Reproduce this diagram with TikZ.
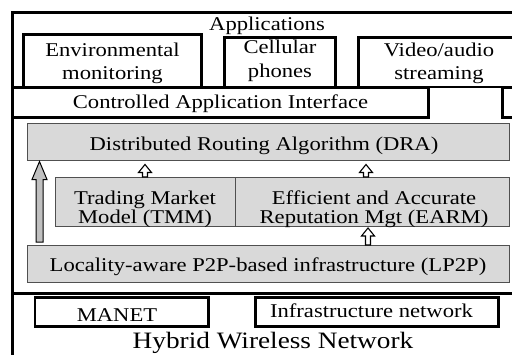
\documentclass[tikz,border=0pt]{standalone}
\usepackage{fontspec}
\setmainfont{Liberation Serif}[FakeStretch=1.16]
\usetikzlibrary{calc}
\definecolor{boxgray}{HTML}{D9D9D9}
\definecolor{arrgray}{HTML}{C0C0C0}
\definecolor{edgegray}{HTML}{505050}
% vertical block arrow: style, tail, tip, shaft half width, head half width, head length
\newcommand{\blkarrow}[6]{\draw[#1] let \p1=#2, \p2=#3 in
  (\x1-#4,\y1) -- (\x1-#4,\y2-#6) -- (\x1-#5,\y2-#6) -- (\x1,\y2) --
  (\x1+#5,\y2-#6) -- (\x1+#4,\y2-#6) -- (\x1+#4,\y1) -- cycle;}
\newcommand{\twoln}[3]{\fontsize{19.5}{#1}\selectfont\begin{tabular}[t]{@{}c@{}}#2\\#3\end{tabular}}
\begin{document}
\begin{tikzpicture}[x=1pt,y=-1pt,
  frame/.style={line width=3.5pt},
  appbox/.style={draw, line width=2.5pt, rectangle, inner sep=0pt, outer sep=0pt, anchor=north west},
  ifbox/.style={draw, line width=3pt, fill=white, rectangle, inner sep=0pt, outer sep=0pt, anchor=north west},
  graybox/.style={draw=edgegray, line width=1pt, fill=boxgray, rectangle, inner sep=0pt, outer sep=0pt, anchor=north west},
  lbl/.style={anchor=base, inner sep=0pt, font=\fontsize{19.5}{22}\selectfont},
  bigarr/.style={draw=black, line width=1pt, fill=arrgray, line join=miter},
  smallarr/.style={draw=black, line width=1.1pt, fill=white, line join=miter}]
\useasboundingbox (0,0) rectangle (512,354);
\fill[white] (0,0) rectangle (512,354);

% Applications layer
\node[appbox, minimum width=178pt, minimum height=52.5pt] (env) at (23.5,34.5) {};
\node[appbox, minimum width=111pt, minimum height=49.5pt] (cell) at (224.5,37.5) {};
\node[appbox, minimum width=170pt, minimum height=49.5pt] (video) at (358.5,37.5) {};
\draw[frame] (12.5,87) -- (12.5,12.5) -- (530,12.5);

% interface boxes
\node[ifbox, minimum width=415.5pt, minimum height=30pt] (cai) at (12.5,87) {};
\node[ifbox, minimum width=40pt, minimum height=30pt] (cai2) at (502,87) {};

% middle and bottom frames
\draw[frame] (12.5,117) -- (12.5,293.5) -- (530,293.5);
\draw[frame] (12.5,293.5) -- (12.5,360);

% gray layers
\node[graybox, minimum width=482pt, minimum height=37pt] (dra) at (27,123) {};
\node[graybox, minimum width=180pt, minimum height=49pt] (tmm) at (55,177) {};
\node[graybox, minimum width=274pt, minimum height=49pt] (earm) at (235,177) {};
\node[graybox, minimum width=482pt, minimum height=37pt] (lp2p) at (27,245) {};

% network boxes
\node[appbox, minimum width=173.5pt, minimum height=29pt] (manet) at (35,297.5) {};
\node[appbox, minimum width=243pt, minimum height=29pt] (infra) at (255.5,297.5) {};

% arrows
\blkarrow{bigarr}{($(lp2p.north west)+(12.5,-3)$)}{($(dra.south west)+(12.5,1.5)$)}{3.5pt}{7.5pt}{18pt}
\blkarrow{smallarr}{(tmm.north)}{($(tmm.north |- dra.south)+(0,4.5)$)}{2.5pt}{6.5pt}{8pt}
\blkarrow{smallarr}{($(earm.north)+(-6,0)$)}{($(earm.north |- dra.south)+(-6,4.5)$)}{2.5pt}{6.5pt}{8pt}
\blkarrow{smallarr}{($(earm.south |- lp2p.north)+(-4,0)$)}{($(earm.south)+(-4,2)$)}{2.5pt}{6.5pt}{8pt}

% texts
\node[lbl] (tapps) at (267,30) {Applications};
\node[lbl] (tenv) at (112.5,56.7) {\twoln{23}{Environmental}{monitoring}};
\node[lbl] (tcell) at (280,53) {\twoln{24}{Cellular}{phones}};
\node[lbl] (tvideo) at (439,56) {\twoln{23}{Video/audio}{streaming}};
\node[lbl] (tcai) at (220.5,108) {Controlled Application Interface};
\node[lbl] (tdra) at (264,150.7) {Distributed Routing Algorithm (DRA)};
\node[lbl] (ttmm) at (145,204) {\twoln{18.5}{Trading Market}{Model (TMM)}};
\node[lbl] (tearm) at (374,204.5) {\twoln{18.5}{Efficient and Accurate}{Reputation Mgt (EARM)}};
\node[lbl] (tlp2p) at (268,271.7) {Locality-aware P2P-based infrastructure (LP2P)};
\node[lbl] (tmanet) at (117,321.5) {MANET};
\node[lbl] (tinfra) at (371.5,317) {Infrastructure network};
\node[lbl, font=\fontsize{23.5}{26}\selectfont] (thwn) at (273,348.3) {Hybrid Wireless Network};
\end{tikzpicture}
\end{document}
